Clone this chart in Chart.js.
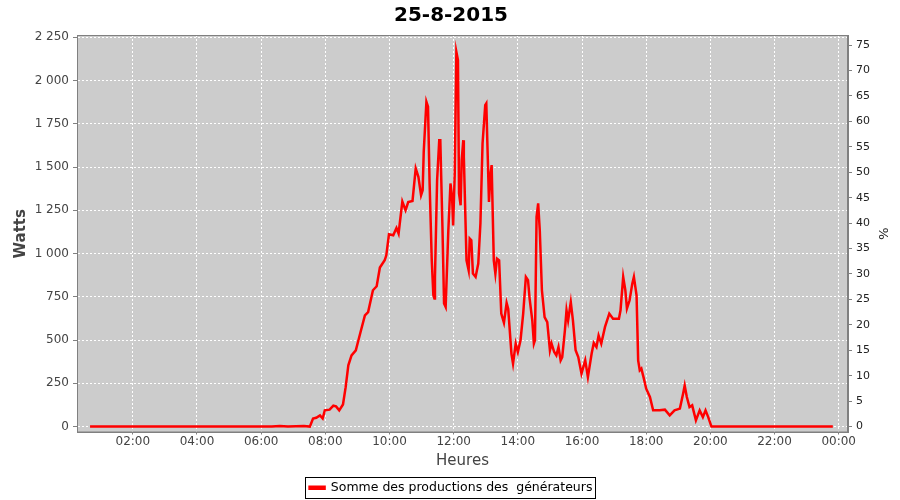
<!DOCTYPE html>
<html>
<head>
<meta charset="utf-8">
<script src="https://cdn.jsdelivr.net/npm/chart.js@4.4.1/dist/chart.umd.min.js"></script>
<style>
  body { margin: 0; background: #fff; }
</style>
</head>
<body>
<canvas id="graf" width="900" height="500"></canvas>
<script>
const titre = "25-8-2015"
const nomSerie = "Somme des productions des  générateurs"

// releves (heure, watts)
const heures = ["00:40", "01:30", "02:30", "03:30", "04:30", "05:30", "06:20", "06:35", "06:50", "07:20", "07:31",
  "07:37", "07:43", "07:50", "07:55", "07:59", "08:08", "08:15", "08:20", "08:26", "08:33", "08:38", "08:43", "08:49",
  "08:57", "09:05", "09:14", "09:20", "09:29", "09:36", "09:42", "09:51", "09:54", "09:59", "10:07", "10:13", "10:17",
  "10:24", "10:30", "10:35", "10:43", "10:49", "10:54", "10:59", "11:02", "11:04", "11:09", "11:12", "11:15", "11:19",
  "11:22", "11:24", "11:25", "11:29", "11:33", "11:35", "11:39", "11:42", "11:45", "11:50", "11:54", "11:57", "11:59",
  "12:02", "12:05", "12:08", "12:10", "12:13", "12:15", "12:18", "12:19", "12:24", "12:28", "12:30", "12:33", "12:36",
  "12:41", "12:46", "12:50", "12:54", "12:59", "13:01", "13:06", "13:09", "13:11", "13:15", "13:18", "13:21", "13:25",
  "13:29", "13:34", "13:39", "13:42", "13:48", "13:51", "13:56", "14:00", "14:05", "14:10", "14:15", "14:19", "14:22",
  "14:27", "14:30", "14:32", "14:35", "14:38", "14:41", "14:45", "14:50", "14:55", "15:00", "15:03", "15:08", "15:12",
  "15:16", "15:20", "15:23", "15:28", "15:31", "15:34", "15:39", "15:43", "15:48", "15:53", "15:59", "16:06", "16:11",
  "16:18", "16:22", "16:27", "16:31", "16:36", "16:43", "16:51", "16:58", "17:09", "17:12", "17:17", "17:21", "17:24",
  "17:29", "17:34", "17:37", "17:42", "17:45", "17:48", "17:51", "17:55", "18:00", "18:07", "18:13", "18:25", "18:35",
  "18:44", "18:53", "19:03", "19:09", "19:12", "19:16", "19:21", "19:26", "19:33", "19:40", "19:46", "19:51", "19:56",
  "20:02", "20:10", "21:00", "22:00", "23:00", "23:49"]
const watts = [0, 0, 0, 0, 0, 0, 0, 4, 0, 3, 0,
  46, 51, 65, 47, 94, 98, 121, 117, 94, 128, 228, 354, 412,
  441, 537, 643, 662, 788, 811, 919, 961, 990, 1112, 1106, 1148, 1116,
  1300, 1250, 1298, 1304, 1492, 1443, 1337, 1366, 1588, 1877, 1848, 1405, 961,
  760, 740, 865, 1424, 1655, 1655, 1154, 711, 691, 1135, 1405, 1327, 1163,
  1463, 2166, 2118, 1347, 1279, 1540, 1655, 1559, 961, 903, 1087, 1077, 884,
  865, 942, 1174, 1636, 1858, 1868, 1298, 1463, 1511, 961, 884, 971, 961,
  653, 600, 715, 680, 422, 364, 480, 431, 499, 653, 865, 846, 740,
  614, 480, 499, 1212, 1290, 1135, 788, 633, 604, 441, 480, 431, 412,
  460, 383, 402, 556, 672, 614, 720, 614, 441, 402, 306, 383, 286,
  422, 483, 460, 527, 480, 576, 653, 624, 624, 672, 865, 788, 682,
  730, 826, 865, 759, 383, 325, 335, 286, 219, 171, 94, 94, 98,
  65, 94, 104, 190, 238, 171, 113, 123, 36, 94, 55, 94, 55,
  0, 0, 0, 0, 0, 0]

const ticksWatts = [0, 250, 500, 750, 1000, 1250, 1500, 1750, 2000, 2250]
const ticksPct = [0, 5, 10, 15, 20, 25, 30, 35, 40, 45, 50, 55, 60, 65, 70, 75]
const ticksHeures = [2, 4, 6, 8, 10, 12, 14, 16, 18, 20, 22, 24]
const puissanceMax = 2940 // 100 %

function enHeures(t) {
  const p = t.split(":")
  return Number(p[0]) + Number(p[1]) / 60
}

function formatHeure(h) {
  const hh = Math.round(h) % 24
  return (hh < 10 ? "0" : "") + hh + ":00"
}

function formatMilliers(v) {
  return String(v).replace(/\B(?=(\d{3})+(?!\d))/g, " ")
}

const points = heures.map((t, i) => ({ x: enHeures(t), y: watts[i] }))

const wMin = -34
const wMax = 2263

// fond gris du graphe + cadre de la legende
const fondPlot = {
  id: "fondPlot",
  beforeDraw(chart) {
    const { ctx, chartArea: a } = chart
    ctx.save()
    ctx.fillStyle = "#cccccc"
    ctx.fillRect(a.left, a.top, a.right - a.left, a.bottom - a.top)
    ctx.restore()
  },
  afterDraw(chart) {
    const { ctx, chartArea: a, legend } = chart
    ctx.save()
    ctx.strokeStyle = "#808080"
    ctx.lineWidth = 1
    ctx.strokeRect(a.left + 0.5, a.top + 0.5, a.right - a.left - 1, a.bottom - a.top - 1)
    if (legend && legend.legendHitBoxes.length) {
      const b = legend.legendHitBoxes[0]
      ctx.strokeStyle = "#000"
      ctx.strokeRect(Math.round(b.left) - 4.5, Math.round(b.top) - 4.5, Math.round(b.width) + 7, Math.round(b.height) + 8)
    }
    ctx.restore()
  }
}

const police = "'DejaVu Sans', sans-serif"

new Chart(document.querySelector("#graf"), {
  type: "line",
  data: {
    datasets: [{
      label: nomSerie,
      data: points,
      borderColor: "#ff0000",
      backgroundColor: "#ff0000",
      borderWidth: 2.5,
      pointRadius: 0,
      tension: 0,
      yAxisID: "y"
    }]
  },
  options: {
    responsive: false,
    animation: false,
    layout: { padding: { left: 12, right: 10, top: 0, bottom: -4 } },
    plugins: {
      title: {
        display: true,
        text: titre,
        color: "#000",
        font: { family: police, size: 20, weight: "bold" },
        padding: { top: 4, bottom: 7 }
      },
      legend: {
        position: "bottom",
        labels: {
          color: "#000",
          font: { family: police, size: 12.5 },
          boxWidth: 15,
          boxHeight: 2,
          padding: 5
        }
      },
      tooltip: { enabled: false }
    },
    scales: {
      x: {
        type: "linear",
        min: 0.26,
        max: 24.29,
        afterBuildTicks: (s) => { s.ticks = ticksHeures.map(v => ({ value: v })) },
        afterFit: (s) => { s.height = 44 },
        ticks: {
          callback: (v) => formatHeure(v),
          color: "#444",
          font: { family: police, size: 12 },
          maxRotation: 0,
          padding: 0
        },
        grid: {
          color: "#ffffff",
          tickColor: "#808080",
          tickBorderDash: [],
          tickLength: 2
        },
        border: { color: "#808080", dash: [2, 2] },
        title: {
          display: true,
          text: "Heures",
          color: "#444",
          font: { family: police, size: 15 },
          padding: { top: 0, bottom: 6 }
        }
      },
      y: {
        position: "left",
        min: wMin,
        max: wMax,
        afterBuildTicks: (s) => { s.ticks = ticksWatts.map(v => ({ value: v })) },
        afterFit: (s) => { s.width = 65 },
        ticks: {
          callback: (v) => formatMilliers(v),
          color: "#444",
          font: { family: police, size: 12 },
          padding: 4
        },
        grid: {
          color: "#ffffff",
          tickColor: "#808080",
          tickBorderDash: [],
          tickLength: 4
        },
        border: { color: "#808080", dash: [2, 2] },
        title: {
          display: true,
          text: "Watts",
          color: "#444",
          font: { family: police, size: 15, weight: "bold" },
          padding: 0
        }
      },
      y2: {
        position: "right",
        min: wMin / puissanceMax * 100,
        max: wMax / puissanceMax * 100,
        afterBuildTicks: (s) => { s.ticks = ticksPct.map(v => ({ value: v })) },
        afterFit: (s) => { s.width = 42 },
        ticks: {
          color: "#222",
          font: { family: police, size: 11 },
          padding: 4
        },
        grid: {
          drawOnChartArea: false,
          tickColor: "#808080",
          tickLength: 4
        },
        border: { color: "#808080" },
        title: {
          display: true,
          text: "%",
          color: "#222",
          font: { family: police, size: 13 },
          padding: 0
        }
      }
    }
  },
  plugins: [fondPlot]
})
</script>
</body>
</html>
